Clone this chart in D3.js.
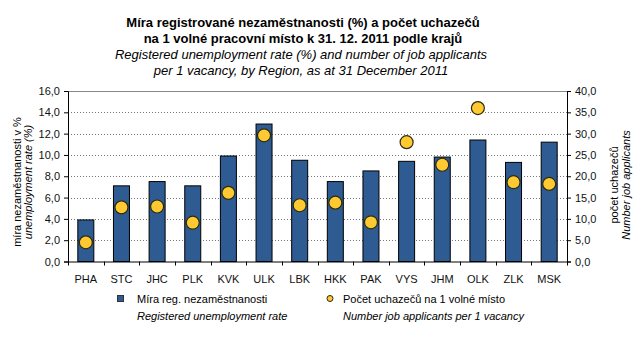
<!DOCTYPE html>
<html><head><meta charset="utf-8">
<script src="https://cdn.jsdelivr.net/npm/d3@7"></script>
<style>body{margin:0;background:#fff}svg{display:block;font-family:"Liberation Sans",Arial,sans-serif}</style>
</head><body><svg id="c" width="643" height="337"></svg>
<script>
const categories = ["PHA","STC","JHC","PLK","KVK","ULK","LBK","HKK","PAK","VYS","JHM","OLK","ZLK","MSK"];
const unemploymentRate = [3.9,7.1,7.5,7.1,9.9,12.9,9.5,7.5,8.5,9.4,9.8,11.4,9.3,11.2];
const applicantsPerVacancy = [4.5,12.7,12.9,9.1,16.1,29.6,13.2,13.8,9.2,28.0,22.7,36.0,18.6,18.2];
const leftTicks = [0,2,4,6,8,10,12,14,16];
const rightTicks = [0,5,10,15,20,25,30,35,40];

const svg = d3.select("#c");
const L = 68, R = 567, T = 91, B = 261.5;
const x = d3.scaleBand().domain(categories).range([L, R]).paddingInner(0).paddingOuter(0);
const yL = d3.scaleLinear().domain([0,16]).range([B, T]);
const yR = d3.scaleLinear().domain([0,40]).range([B, T]);
const fmt = d => d.toFixed(1).replace(".", ",");

// gridlines
svg.append("g").selectAll("line").data(leftTicks.filter(d => d > 0 && d < 16)).join("line")
  .attr("x1", L).attr("x2", R).attr("y1", d => Math.round(yL(d)) + 0.5).attr("y2", d => Math.round(yL(d)) + 0.5)
  .attr("stroke", "#777").attr("stroke-dasharray", "1,2");
// top border
svg.append("line").attr("x1", L).attr("x2", R).attr("y1", T + 0.5).attr("y2", T + 0.5).attr("stroke", "#888");

// bars
const bw = 16;
svg.append("g").selectAll("rect").data(categories).join("rect")
  .attr("x", (d) => x(d) + x.bandwidth()/2 - bw/2)
  .attr("y", (d,i) => yL(unemploymentRate[i]))
  .attr("width", bw)
  .attr("height", (d,i) => B - yL(unemploymentRate[i]))
  .attr("fill", "#2F5B93").attr("stroke", "#000").attr("stroke-width", 1);

// axes
const axL = svg.append("g").attr("transform", `translate(${L},0)`)
  .call(d3.axisLeft(yL).tickValues(leftTicks).tickFormat(fmt).tickSize(4).tickPadding(4));
const axR = svg.append("g").attr("transform", `translate(${R},0)`)
  .call(d3.axisRight(yR).tickValues(rightTicks).tickFormat(fmt).tickSize(4).tickPadding(4));
const axB = svg.append("g").attr("transform", `translate(0,${B})`)
  .call(d3.axisBottom(x).tickSize(0).tickPadding(14));
[axL, axR, axB].forEach(a => {
  a.select(".domain").attr("stroke", "#000");
  a.selectAll("text").attr("font-size", 11).attr("fill", "#111").attr("font-family", '"Liberation Sans",Arial,sans-serif');
  a.selectAll("line").attr("stroke", "#000");
});
axB.select(".domain").attr("d", `M${L},0.5H${R}`);
// bottom ticks at band boundaries
svg.append("g").selectAll("line").data(categories.concat(["__end"])).join("line")
  .attr("x1", (d,i) => Math.round(L + i * x.bandwidth()) + 0.5)
  .attr("x2", (d,i) => Math.round(L + i * x.bandwidth()) + 0.5)
  .attr("y1", B).attr("y2", B + 4).attr("stroke", "#000");

// dots
svg.append("g").selectAll("circle").data(categories).join("circle")
  .attr("cx", d => x(d) + x.bandwidth()/2)
  .attr("cy", (d,i) => yR(applicantsPerVacancy[i]))
  .attr("r", 6.5)
  .attr("fill", "#FFC931").attr("stroke", "#2b2b10").attr("stroke-width", 1.2);

// titles
const t = svg.append("g").attr("text-anchor", "middle").style("white-space", "pre");
t.append("text").attr("x", 303).attr("y", 27).attr("font-weight", "bold").attr("font-size", 13)
  .text("Míra registrované  nezaměstnanosti  (%) a počet  uchazečů");
t.append("text").attr("x", 303).attr("y", 43).attr("font-weight", "bold").attr("font-size", 13)
  .text("na 1 volné  pracovní místo k 31. 12. 2011 podle krajů");
t.append("text").attr("x", 301).attr("y", 59).attr("font-style", "italic").attr("font-size", 13)
  .text("Registered unemployment  rate (%) and number of job applicants");
t.append("text").attr("x", 301).attr("y", 75).attr("font-style", "italic").attr("font-size", 13)
  .text("per 1 vacancy, by Region,  as at 31 December  2011");

// axis titles
const lt = svg.append("g").attr("transform", "translate(0,182) rotate(-90)").attr("text-anchor", "middle").attr("font-size", 11);
lt.append("text").attr("x", 0).attr("y", 21).text("míra nezaměstnanosti v %");
lt.append("text").attr("x", 0).attr("y", 32).attr("font-style", "italic").text("unemployment rate (%)");
const rt = svg.append("g").attr("transform", "translate(0,185) rotate(-90)").attr("text-anchor", "middle").attr("font-size", 11);
rt.append("text").attr("x", 0).attr("y", 618).text("počet uchazečů");
rt.append("text").attr("x", 0).attr("y", 630).attr("font-style", "italic").text("Number job applicants");

// legend
const lg = svg.append("g").attr("font-size", 11);
lg.append("rect").attr("x", 117.5).attr("y", 295.5).attr("width", 6).attr("height", 6).attr("fill", "#2F5B93").attr("stroke", "#333");
lg.append("text").attr("x", 137).attr("y", 303).text("Míra reg. nezaměstnanosti");
lg.append("text").attr("x", 137).attr("y", 320).attr("font-style", "italic").text("Registered unemployment rate");
lg.append("circle").attr("cx", 330).attr("cy", 298.5).attr("r", 3).attr("fill", "#FFC931").attr("stroke", "#2b2b10");
lg.append("text").attr("x", 343).attr("y", 303).text("Počet uchazečů na 1 volné místo");
lg.append("text").attr("x", 343).attr("y", 320).attr("font-style", "italic").text("Number job applicants per 1 vacancy");
</script></body></html>
